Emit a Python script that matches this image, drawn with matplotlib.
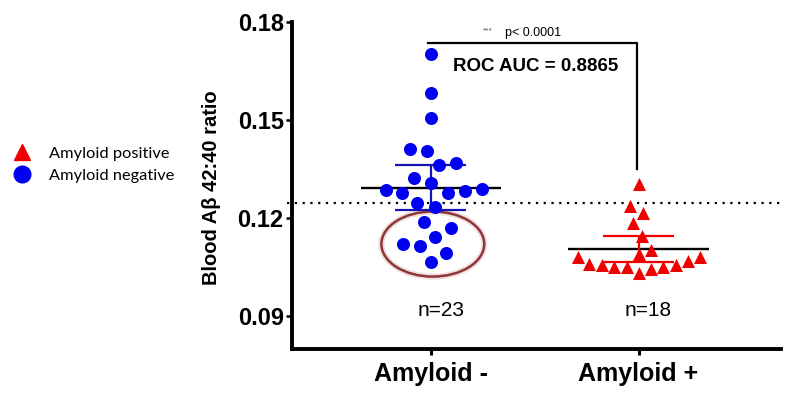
import numpy as np
import matplotlib
matplotlib.use('Agg')
import matplotlib.pyplot as plt
from matplotlib.patches import Ellipse
from matplotlib.lines import Line2D

# ---------------- data ----------------
categories = ['Amyloid -', 'Amyloid +']
amyloid_neg = [0.1701, 0.1582, 0.1505, 0.1413, 0.1405, 0.1369, 0.1362, 0.1322,
               0.1309, 0.1288, 0.1286, 0.1283, 0.1276, 0.1276, 0.1245, 0.1235,
               0.1189, 0.1169, 0.1143, 0.1120, 0.1114, 0.1094, 0.1066]
amyloid_pos = [0.1306, 0.1237, 0.1216, 0.1184, 0.1145, 0.1102, 0.1092, 0.1080,
               0.1080, 0.1069, 0.1059, 0.1056, 0.1056, 0.1051, 0.1051, 0.1051,
               0.1044, 0.1033]
t_crit = [2.074, 2.110]          # t(0.975, n-1) for the 95% CI of the mean
y_ticks = [0.09, 0.12, 0.15, 0.18]
y_tick_labels = ['0.09', '0.12', '0.15', '0.18']
n_labels = ['n=23', 'n=18']
cutoff = 0.1246
roc_text = 'ROC AUC = 0.8865'
p_text = 'p< 0.0001'
legend_labels = ['Amyloid positive', 'Amyloid negative']

BLUE = '#0000F0'
BLUE_DARK = '#1414B4'
RED = '#F00000'
FONT = ['Liberation Sans', 'DejaVu Sans']
plt.rcParams['font.family'] = FONT

fig = plt.figure(figsize=(7.96, 3.98), dpi=100)
ax = fig.add_axes([0.3668, 0.1231, 0.6144, 0.8216])
ax.set_xlim(0.332, 2.686)
ax.set_ylim(0.08, 0.18)

px_per_x = ax.transData.transform((1, 0))[0] - ax.transData.transform((0, 0))[0]


def swarm_offsets(values, sx, sy):
    """Beeswarm with an elliptical exclusion zone (sx, sy in pixels)."""
    vals = np.asarray(values, dtype=float)
    ys = ax.transData.transform(np.column_stack([np.ones(len(vals)), vals]))[:, 1]
    order = np.argsort(vals, kind='stable')
    placed = []
    xs = np.zeros(len(vals))

    def ok(c, y):
        return all(((c - px) / sx) ** 2 + ((y - py) / sy) ** 2 >= 1 - 1e-6 for px, py in placed)

    for i in order:
        y = ys[i]
        cands = [0.0]
        for (px, py) in placed:
            dy = abs(y - py)
            if dy < sy:
                dx = sx * np.sqrt(1 - (dy / sy) ** 2)
                cands += [px + dx, px - dx]
        best = 0.0
        for c in sorted(cands, key=lambda c: (abs(c), -c)):
            if ok(c, y):
                best = c
                break
        xs[i] = best
        placed.append((best, y))
    return xs / px_per_x


groups = [amyloid_neg, amyloid_pos]
markers = ['o', '^']
colors = [BLUE, RED]
ci_colors = [BLUE_DARK, RED]
swarm_sx = [17.0, 12.5]
swarm_sy = [20.0, 18.0]
for i, (vals, mk, col, ccol, t) in enumerate(zip(groups, markers, colors, ci_colors, t_crit)):
    pos = i + 1
    xo = swarm_offsets(vals, swarm_sx[i], swarm_sy[i])
    ax.scatter(pos + xo, vals, s=88, marker=mk, color=col, linewidths=0, zorder=4)
    arr = np.asarray(vals)
    mean = arr.mean()
    ci = t * arr.std(ddof=1) / np.sqrt(len(arr))
    ax.hlines(mean, pos - 0.337, pos + 0.337, color='black', lw=1.7, zorder=3)
    ax.vlines(pos, mean - ci, mean + ci, color=ccol, lw=1.6, zorder=3)
    ax.hlines([mean - ci, mean + ci], pos - 0.17, pos + 0.17, color=ccol, lw=1.6, zorder=3)
    ax.text(pos + 0.048, 0.0917, n_labels[i], ha='center', va='center', fontsize=15)

# cutoff line
ax.plot([0.31, 2.686], [cutoff, cutoff], color='black', ls=(0, (1, 2.5)), lw=1.6,
        clip_on=False, zorder=2)

# highlighted low amyloid-negative cluster
ax.add_patch(Ellipse((1.01, 0.1121), width=0.495, height=0.0199, fill=False,
                     edgecolor='#F0E0E0', lw=4.5, zorder=1))
ax.add_patch(Ellipse((1.01, 0.1121), width=0.495, height=0.0199, fill=False,
                     edgecolor='#8E3535', lw=1.8, zorder=2))

# significance bracket
ax.plot([0.986, 1.995, 1.995], [0.1737, 0.1737, 0.1350], color='black', lw=1.6, zorder=3)
ax.text(1.275, 0.1773, '***', ha='center', va='center', fontsize=6, color='#555555')
ax.text(1.356, 0.1766, p_text, ha='left', va='center', fontsize=9)
ax.text(1.505, 0.1665, roc_text, ha='center', va='center', fontsize=13.5, fontweight='bold')

# axes styling
for s in ['top', 'right']:
    ax.spines[s].set_visible(False)
for s in ['left', 'bottom']:
    ax.spines[s].set_linewidth(2.8)
ax.set_yticks(y_ticks)
ax.set_yticklabels(y_tick_labels, fontsize=17, fontweight='bold')
ax.set_xticks([1, 2])
ax.set_xticklabels(categories, fontsize=18, fontweight='bold')
ax.tick_params(axis='y', length=4, width=1.8, pad=2)
ax.tick_params(axis='x', length=4, width=2.2, pad=5)
ax.set_ylabel('Blood Aβ 42:40 ratio', fontsize=14.5, fontweight='bold', va='center')
ax.yaxis.set_label_coords(-0.164, 0.494)

# legend
handles = [Line2D([], [], marker='^', color=RED, ls='none', ms=11),
           Line2D([], [], marker='o', color=BLUE, ls='none', ms=12)]
fig.legend(handles, legend_labels, loc='upper left', bbox_to_anchor=(0.0185, 0.632),
           frameon=False, prop={'family': ['Lato', 'DejaVu Sans'], 'size': 11.8},
           borderpad=0, borderaxespad=0, handlelength=0.9, handletextpad=1.2,
           labelspacing=0.45)

fig.savefig('out.png', dpi=100)
